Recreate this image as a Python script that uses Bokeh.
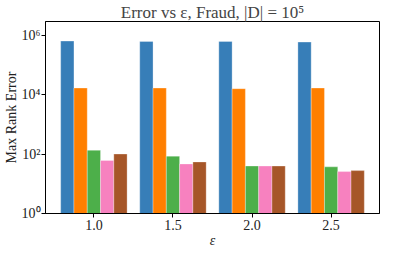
from bokeh.plotting import figure
from bokeh.models import ColumnDataSource, Range1d, FixedTicker, CustomJSTickFormatter
from bokeh.transform import dodge
from bokeh.embed import file_html
from bokeh.resources import INLINE

# ---- data ----
eps_labels = ["1.0", "1.5", "2.0", "2.5"]
eps_pos = [0, 1, 2, 3]
series_a = [6.6e5, 6.4e5, 6.4e5, 6.1e5]   # blue
series_b = [1.72e4, 1.72e4, 1.63e4, 1.72e4]  # orange
series_c = [136, 86, 40, 37.5]   # green
series_d = [62, 47, 40, 26]      # pink
series_e = [102, 55, 40, 28]     # brown
y_ticks = [1, 1e2, 1e4, 1e6]

colors = ["#377eb8", "#ff7f00", "#4daf4a", "#f781bf", "#a65628"]

src = ColumnDataSource(dict(x=eps_pos, a=series_a, b=series_b, c=series_c, d=series_d, e=series_e))

FONT = "Liberation Serif"

p = figure(width=384, height=250, output_backend="svg", toolbar_location=None,
           y_axis_type="log", x_range=Range1d(-0.612, 3.612), y_range=Range1d(1, 10**6.48),
           title="Error vs ε, Fraud, |D| = 10⁵")
p.min_border_left = 0
p.min_border_right = 5
p.min_border_top = 0
p.min_border_bottom = 0

bw = 0.168
cols = ["a", "b", "c", "d", "e"]
for i, (c, col) in enumerate(zip(cols, colors)):
    p.vbar(x=dodge("x", (i - 2) * bw, range=p.x_range), top=c, bottom=1, width=bw, source=src,
           fill_color=col, line_color="white", line_alpha=0.5, line_width=0.6)

p.title.text_font = FONT
p.title.text_font_size = "17px"
p.title.text_font_style = "normal"
p.title.align = "center"
p.title.standoff = 0
p.title.offset = 0

p.xgrid.visible = False
p.ygrid.visible = False
p.outline_line_color = "black"
p.outline_line_width = 1

p.xaxis.ticker = FixedTicker(ticks=eps_pos)
p.xaxis.major_label_overrides = {i: l for i, l in zip(eps_pos, eps_labels)}
p.yaxis.ticker = FixedTicker(ticks=y_ticks)
p.yaxis.formatter = CustomJSTickFormatter(code="""
const sup = {"0":"⁰","1":"¹","2":"²","3":"³","4":"⁴","5":"⁵","6":"⁶","7":"⁷","8":"⁸","9":"⁹"};
const e = String(Math.round(Math.log10(tick)));
return "10" + e.split("").map(ch => sup[ch]).join("");
""")

for ax in (p.xaxis[0], p.yaxis[0]):
    ax.minor_tick_line_color = None
    ax.major_tick_in = 0
    ax.major_tick_out = 4
    ax.axis_line_color = "black"
    ax.major_tick_line_color = "black"
    ax.major_label_text_font = FONT
    ax.major_label_text_font_size = "14px"
    ax.major_label_text_color = "#222222"
    ax.axis_label_text_font = FONT
    ax.axis_label_text_font_size = "14px"
    ax.axis_label_text_font_style = "normal"
    ax.axis_label_text_color = "#222222"
    ax.major_label_standoff = 2

p.xaxis.axis_label = "ε"
p.xaxis.axis_label_text_font_style = "italic"
p.xaxis.axis_label_standoff = 0
p.yaxis.axis_label = "Max Rank Error"
p.yaxis.axis_label_standoff = 0
p.yaxis.major_label_standoff = 1
p.yaxis.major_label_orientation = "horizontal"

open("out.html", "w").write(file_html(p, INLINE))
